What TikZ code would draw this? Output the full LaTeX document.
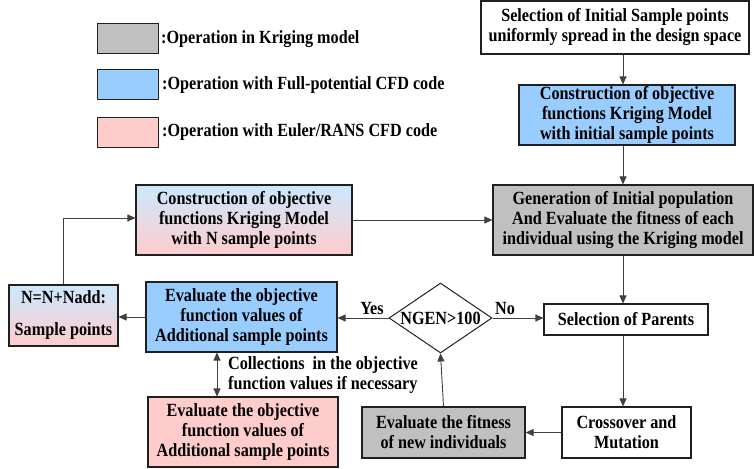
\documentclass[tikz,border=0pt]{standalone}
\usepackage{fontspec}
\setmainfont{Liberation Serif}
\newfontfamily\tallserif[FakeStretch=0.87]{Liberation Serif}
\usetikzlibrary{arrows.meta,shapes.geometric,calc}

\definecolor{kgray}{HTML}{C0C0C0}
\definecolor{fpblue}{HTML}{99CCFF}
\definecolor{erpink}{HTML}{FFCCCC}
\definecolor{topblue}{HTML}{CCE8FF}
\definecolor{edge}{HTML}{202020}
\definecolor{wire}{HTML}{404040}

\newcommand{\boxfont}{\tallserif\fontsize{18.6}{20}\selectfont\bfseries}

\tikzset{
  base/.style={draw=edge, line width=1.1pt, rectangle, align=center,
    font=\boxfont, inner sep=0pt},
  plain/.style={base, fill=white},
  kriging/.style={base, fill=kgray},
  fullpot/.style={base, fill=fpblue},
  euler/.style={base, fill=erpink},
  mixed/.style={base, top color=topblue, bottom color=erpink},
  decide/.style={draw=edge, line width=1pt, diamond, aspect=1.47, inner sep=0pt,
    font=\boxfont},
  legbox/.style={draw=edge, line width=1pt, minimum width=61pt, minimum height=30pt},
  legtext/.style={anchor=west, inner sep=0pt, font=\boxfont},
  lbl/.style={inner sep=0pt, font=\boxfont},
  arr/.style={draw=wire, line width=0.9pt, -{Triangle[length=8pt,width=7pt]}},
  twoarr/.style={draw=wire, line width=0.9pt, {Triangle[length=8pt,width=7pt]}-{Triangle[length=8pt,width=7pt]}},
}

\begin{document}
\begin{tikzpicture}[x=1pt,y=-1pt]
\useasboundingbox (0,0) rectangle (754,468);

% legend
\node[legbox, fill=kgray]  (lg1) at (127.5,39)  {};
\node[legbox, fill=fpblue] (lg2) at (127.5,85)  {};
\node[legbox, fill=erpink] (lg3) at (127.5,132.5) {};
\node[legtext] (lt1) at (161,39)  {:Operation in Kriging model};
\node[legtext] (lt2) at (162,85)  {:Operation with Full-potential CFD code};
\node[legtext] (lt3) at (162,132.5) {:Operation with Euler/RANS CFD code};

% flow boxes
\node[plain, minimum width=268pt, minimum height=53pt] (sel) at (615,27.5)
  {Selection of Initial Sample points\\uniformly spread in the design space};
\node[fullpot, minimum width=216pt, minimum height=60pt] (cinit) at (627,115)
  {Construction of objective\\functions Kriging Model\\with initial sample points};
\node[kriging, minimum width=260pt, minimum height=70pt] (gen) at (623,220)
  {Generation of Initial population\\And Evaluate the fitness of each\\individual using the Kriging model};
\node[mixed, minimum width=216pt, minimum height=70pt] (cN) at (244,220)
  {Construction of objective\\functions Kriging Model\\with N sample points};
\node[mixed, minimum width=109pt, minimum height=61pt] (nadd) at (63.5,315.5)
  {N=N+Nadd:\\[12pt]Sample points};
\node[fullpot, minimum width=191pt, minimum height=70pt] (evb) at (241.5,317)
  {Evaluate the objective\\function values of\\Additional sample points};
\node[decide, minimum width=103pt, minimum height=70pt] (ngen) at (440.5,318) {NGEN>100};
\node[plain, minimum width=164pt, minimum height=31pt] (par) at (626,319.5)
  {Selection of Parents};
\node[plain, minimum width=129pt, minimum height=51pt] (cross) at (626.5,432.5)
  {Crossover and\\Mutation};
\node[kriging, minimum width=163pt, minimum height=51pt] (fit) at (443.5,432.5)
  {Evaluate the fitness\\of new individuals};
\node[euler, minimum width=190pt, minimum height=70pt] (evp) at (243,432)
  {Evaluate the objective\\function values of\\Additional sample points};

% connectors
\draw[arr] (sel.south -| gen.north) -- (cinit.north -| gen.north);
\draw[arr] (cinit.south -| gen.north) -- (gen.north);
\draw[arr] (cN.east) -- (gen.west);
\draw[arr] (gen.south) -- (gen.south |- par.north);
\draw[arr] (par.south -| gen.south) -- (cross.north -| gen.south);
\draw[arr] (cross.west) -- (fit.east);
\draw[arr] (fit.north) -- (ngen.south);
\draw[arr] (ngen.east) -- (par.west |- ngen.east);
\draw[arr] (ngen.west) -- (evb.east |- ngen.west);
\draw[arr] (evb.west) -- (nadd.east |- evb.west);
\draw[arr] (nadd.north) |- ($(cN.west)+(0,-2)$);
\draw[twoarr] ($(evb.south)+(-24.5,0)$) -- ($(evp.north)+(-26,0)$);

% labels
\node[lbl, anchor=south] (yes) at (372,315) {Yes};
\node[lbl, anchor=south] (no) at (505,315) {No};
\node[lbl, anchor=west, align=left] (coll) at (228,375)
  {Collections\ \ in the objective\\function values if necessary};
\end{tikzpicture}
\end{document}
